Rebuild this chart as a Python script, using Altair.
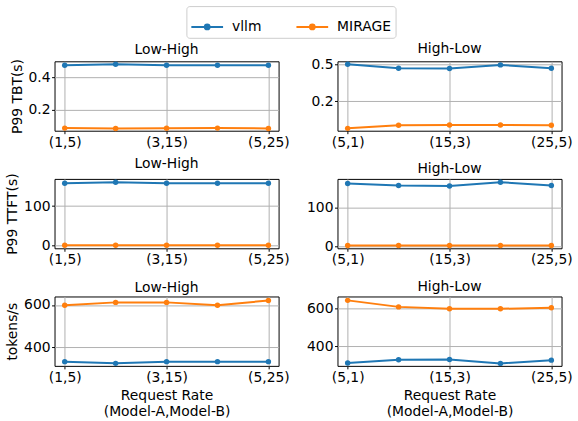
import altair as alt
import pandas as pd

systems = ["vllm", "MIRAGE"]
colors = ["#1f77b4", "#ff7f0e"]
rates_low_high = ["(1,5)", "(2,10)", "(3,15)", "(4,20)", "(5,25)"]
rates_high_low = ["(5,1)", "(10,2)", "(15,3)", "(20,4)", "(25,5)"]

tbt_low_high_vllm = [0.476, 0.482, 0.476, 0.476, 0.476]
tbt_low_high_mirage = [0.084, 0.082, 0.083, 0.084, 0.082]
tbt_high_low_vllm = [0.501, 0.454, 0.451, 0.494, 0.454]
tbt_high_low_mirage = [0.102, 0.110, 0.111, 0.111, 0.110]

ttft_low_high_vllm = [158.0, 160.5, 158.0, 158.0, 158.0]
ttft_low_high_mirage = [1.2, 1.1, 1.2, 1.1, 1.2]
ttft_high_low_vllm = [161.7, 156.7, 155.0, 165.0, 156.7]
ttft_high_low_mirage = [2.2, 2.0, 2.1, 2.0, 2.1]

tput_low_high_vllm = [331, 323, 331, 331, 331]
tput_low_high_mirage = [598.6, 612, 612, 598.6, 621]
tput_high_low_vllm = [313, 330, 331.7, 311, 328]
tput_high_low_mirage = [640.7, 606.6, 596.6, 596.6, 601.7]

rows = []


def add(metric, pattern, rates, system, values):
    for r, v in zip(rates, values):
        rows.append({"metric": metric, "pattern": pattern, "rate": r,
                     "system": system, "value": v})


add("tbt", "Low-High", rates_low_high, "vllm", tbt_low_high_vllm)
add("tbt", "Low-High", rates_low_high, "MIRAGE", tbt_low_high_mirage)
add("tbt", "High-Low", rates_high_low, "vllm", tbt_high_low_vllm)
add("tbt", "High-Low", rates_high_low, "MIRAGE", tbt_high_low_mirage)
add("ttft", "Low-High", rates_low_high, "vllm", ttft_low_high_vllm)
add("ttft", "Low-High", rates_low_high, "MIRAGE", ttft_low_high_mirage)
add("ttft", "High-Low", rates_high_low, "vllm", ttft_high_low_vllm)
add("ttft", "High-Low", rates_high_low, "MIRAGE", ttft_high_low_mirage)
add("tput", "Low-High", rates_low_high, "vllm", tput_low_high_vllm)
add("tput", "Low-High", rates_low_high, "MIRAGE", tput_low_high_mirage)
add("tput", "High-Low", rates_high_low, "vllm", tput_high_low_vllm)
add("tput", "High-Low", rates_high_low, "MIRAGE", tput_high_low_mirage)

df = pd.DataFrame(rows)

FONT = "DejaVu Sans"
FS = 14
W, H = 226, 70

legend = alt.Legend(
    title=None, orient="none", legendX=133, legendY=-55.7, direction="horizontal",
    symbolType="M-1,0L1,0M-0.15,0A0.15,0.15,0,1,1,0.15,0A0.15,0.15,0,1,1,-0.15,0Z",
    symbolSize=1024, symbolStrokeWidth=2, symbolOpacity=1,
    labelFont=FONT, labelFontSize=FS, labelColor="black", labelOffset=8,
    columnPadding=31, padding=4, strokeColor="#cccccc", fillColor="white",
    cornerRadius=3,
)


def axis_kw():
    return dict(labelFont=FONT, labelFontSize=FS, labelColor="black",
                titleFont=FONT, titleFontSize=FS, titleColor="black",
                titleFontWeight="normal", tickColor="black", tickSize=3,
                tickWidth=1, labelPadding=1.5, titlePadding=4, titleLineHeight=16.5,
                gridColor="#b0b0b0", gridWidth=1, domain=False, grid=True)


def panel(metric, pattern, rates, y_title, domain, ticks, fmt, scale_type, x_title):
    base = alt.Chart(df).transform_filter(
        (alt.datum.metric == metric) & (alt.datum.pattern == pattern))
    x = alt.X("rate:N", sort=rates,
              scale=alt.Scale(type="point", padding=0.2, domain=rates),
              axis=alt.Axis(values=[rates[0], rates[2], rates[4]], title=x_title,
                            labelAngle=0, **axis_kw()))
    y = alt.Y("value:Q",
              scale=alt.Scale(type=scale_type, domain=domain, nice=False, zero=False),
              axis=alt.Axis(values=ticks, format=fmt, title=y_title, **axis_kw()))
    color = alt.Color("system:N", scale=alt.Scale(domain=systems, range=colors),
                      legend=legend)
    line = base.mark_line(strokeWidth=2).encode(x=x, y=y, color=color)
    pts = base.mark_point(filled=True, size=30, opacity=1).encode(x=x, y=y, color=color)
    return alt.layer(line, pts).properties(
        width=W, height=H,
        title=alt.TitleParams(pattern, font=FONT, fontSize=FS, fontWeight="normal",
                              color="black", anchor="middle", offset=2))


xt = ["Request Rate", "(Model-A,Model-B)"]
panels = [
    panel("tbt", "Low-High", rates_low_high, "P99 TBT(s)", [0.0677, 0.5008], [0.2, 0.4], ".1f", "linear", None),
    panel("tbt", "High-Low", rates_high_low, None, [0.0962, 0.540], [0.2, 0.5], ".1f", "log", None),
    panel("ttft", "Low-High", rates_low_high, "P99 TTFT(s)", [-6.6, 168.8], [0, 100], "d", "linear", None),
    panel("ttft", "High-Low", rates_high_low, None, [-5, 173.5], [0, 100], "d", "linear", None),
    panel("tput", "Low-High", rates_low_high, "tokens/s", [311, 640], [400, 600], "d", "linear", xt),
    panel("tput", "High-Low", rates_high_low, None, [298, 661], [400, 600], "d", "linear", xt),
]

chart = alt.concat(
    *panels, columns=2, spacing={"row": 48.6, "column": 59.4}, bounds="flush"
).resolve_scale(
    x="independent", y="independent"
).configure(
    padding={"left": 5, "top": 3, "right": 5, "bottom": 5}
).configure_view(
    stroke="black", strokeWidth=1
)

chart.save("out.html", embed_options={"renderer": "svg", "actions": False})
